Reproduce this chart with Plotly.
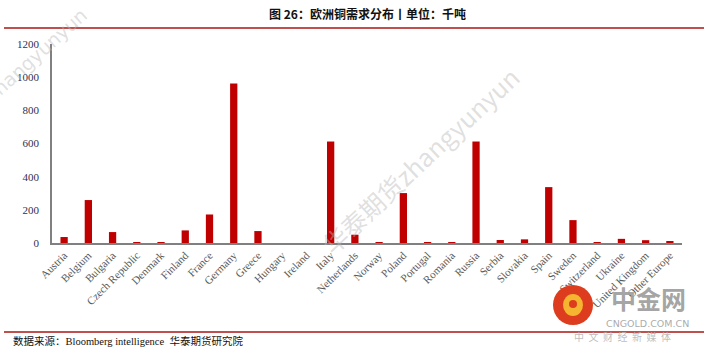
import plotly.graph_objects as go

countries = ["Austria", "Belgium", "Bulgaria", "Czech Republic", "Denmark", "Finland",
             "France", "Germany", "Greece", "Hungary", "Ireland", "Italy", "Netherlands",
             "Norway", "Poland", "Portugal", "Romania", "Russia", "Serbia", "Slovakia",
             "Spain", "Sweden", "Switzerland", "Ukraine", "United Kingdom", "Other Europe"]
demand = [36, 259, 66, 0.2, 0.2, 76, 172, 962, 72, 0, 0, 612, 50, 0.2, 301, 0.2, 0.3, 612,
          18, 22, 337, 138, 0.2, 25, 17, 12]
y_ticks = [0, 200, 400, 600, 800, 1000, 1200]

title_text = "图\u00a026：欧洲铜需求分布丨单位：千吨"
source_text = "数据来源：Bloomberg intelligence  华泰期货研究院"

serif = "Liberation Serif"
cjk = "Noto Sans CJK SC"

L, R, T, B = 52, 26, 44, 110
W, H = 708, 353

fig = go.Figure()
fig.add_trace(go.Bar(x=countries, y=demand, marker=dict(color="#C00000", line=dict(width=0)),
                     width=0.3))

fig.update_layout(
    width=W, height=H,
    margin=dict(l=L, r=R, t=T, b=B),
    paper_bgcolor="white", plot_bgcolor="white",
    showlegend=False,
    xaxis=dict(showline=True, linecolor="#808080", linewidth=1.5, showgrid=False,
               ticks="", tickangle=-45, tickfont=dict(family=serif, size=11, color="#595959"),
               range=[-0.5, len(countries) - 0.5], fixedrange=True),
    yaxis=dict(showline=True, linecolor="#808080", linewidth=1.5, showgrid=False,
               zeroline=False, ticks="", tickvals=y_ticks, range=[0, 1200],
               tickfont=dict(family=serif, size=11, color="#2E3050"), ticklabelstandoff=9),
)


def px_x(px):
    return (px - L) / (W - L - R)


def px_y(py):
    return (H - B - py) / (H - T - B)


def note(text, x, y, size, color, family, angle=0, xanchor="center"):
    fig.add_annotation(text=text, x=px_x(x), y=px_y(y), xref="paper", yref="paper",
                       xanchor=xanchor, yanchor="middle", showarrow=False, textangle=angle,
                       font=dict(family=family, size=size, color=color))


note("<b>" + title_text + "</b>", 367, 13, 12, "#111111", cjk)
note(source_text, 11, 341, 10.5, "#111111", "Liberation Serif, Noto Sans CJK SC", xanchor="left")

line_col = "#C0504D"
for yy in (28, 332):
    fig.add_shape(type="line", xref="paper", yref="paper", x0=px_x(4), x1=px_x(704),
                  y0=px_y(yy), y1=px_y(yy), line=dict(color=line_col, width=2))

# watermarks
wm_col = "rgba(185,185,185,0.45)"
note("zhangyunyun", 36, 55, 19, wm_col, "DejaVu Sans", angle=-42)
note("华泰期货zhangyunyun", 420, 160, 25, wm_col, "Noto Sans CJK SC", angle=-43)

# logo
fig.add_shape(type="circle", xref="paper", yref="paper",
              x0=px_x(553), x1=px_x(593), y0=px_y(285), y1=px_y(325),
              fillcolor="#DD3C1E", line=dict(width=0))
fig.add_shape(type="circle", xref="paper", yref="paper",
              x0=px_x(563), x1=px_x(583), y0=px_y(294), y1=px_y(316),
              fillcolor="#F6B530", line=dict(width=0))
fig.add_shape(type="circle", xref="paper", yref="paper",
              x0=px_x(569), x1=px_x(577), y0=px_y(300), y1=px_y(308),
              fillcolor="#DD3C1E", line=dict(width=0))
note("<b>中金网</b>", 648, 298, 25, "rgba(160,160,160,0.95)", cjk)
note("CNGOLD.COM.CN", 647, 323, 9.5, "rgba(165,165,165,0.95)", "DejaVu Sans")
note("中  文  财  经  新  媒  体", 622, 336, 10, "rgba(185,185,185,0.95)", cjk)

fig.write_html("out.html")
